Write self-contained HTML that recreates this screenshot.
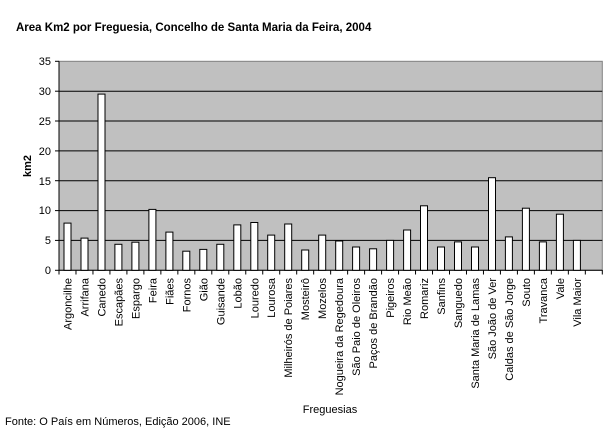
<!DOCTYPE html>
<html><head><meta charset="utf-8"><style>
body{margin:0;background:#fff}
svg{display:block;font-family:"Liberation Sans",Arial,sans-serif}
</style></head><body>
<svg width="613" height="431" viewBox="0 0 613 431">
<text x="16" y="31" font-size="11.5" font-weight="bold">Area Km2 por Freguesia, Concelho de Santa Maria da Feira, 2004</text>
<rect x="59" y="61.3" width="543.3" height="209" fill="#c0c0c0" stroke="#808080" stroke-width="1"/>
<g stroke="#000" stroke-width="1">
<line x1="59" x2="602.3" y1="91.2" y2="91.2"/>
<line x1="59" x2="602.3" y1="121.0" y2="121.0"/>
<line x1="59" x2="602.3" y1="150.9" y2="150.9"/>
<line x1="59" x2="602.3" y1="180.7" y2="180.7"/>
<line x1="59" x2="602.3" y1="210.6" y2="210.6"/>
<line x1="59" x2="602.3" y1="240.4" y2="240.4"/>
<line x1="59" x2="59" y1="61.3" y2="270.3"/>
<line x1="59" x2="602.3" y1="270.3" y2="270.3"/>
<line x1="55" x2="59" y1="270.3" y2="270.3"/><line x1="55" x2="59" y1="240.4" y2="240.4"/><line x1="55" x2="59" y1="210.6" y2="210.6"/><line x1="55" x2="59" y1="180.7" y2="180.7"/><line x1="55" x2="59" y1="150.9" y2="150.9"/><line x1="55" x2="59" y1="121" y2="121"/><line x1="55" x2="59" y1="91.2" y2="91.2"/><line x1="55" x2="59" y1="61.3" y2="61.3"/>
</g>
<g font-size="11" text-anchor="end">
<text x="51" y="274">0</text><text x="51" y="244">5</text><text x="51" y="214">10</text><text x="51" y="185">15</text><text x="51" y="155">20</text><text x="51" y="125">25</text><text x="51" y="95">30</text><text x="51" y="65">35</text>
</g>
<text transform="translate(31,166) rotate(-90)" font-size="11" font-weight="bold" text-anchor="middle">km2</text>
<g stroke="#000">
<path d="M59 270v4.5M75.98 270v4.5M92.96 270v4.5M109.93 270v4.5M126.91 270v4.5M143.89 270v4.5M160.87 270v4.5M177.85 270v4.5M194.83 270v4.5M211.8 270v4.5M228.78 270v4.5M245.76 270v4.5M262.74 270v4.5M279.72 270v4.5M296.69 270v4.5M313.67 270v4.5M330.65 270v4.5M347.63 270v4.5M364.61 270v4.5M381.59 270v4.5M398.56 270v4.5M415.54 270v4.5M432.52 270v4.5M449.5 270v4.5M466.48 270v4.5M483.46 270v4.5M500.43 270v4.5M517.41 270v4.5M534.39 270v4.5M551.37 270v4.5M568.35 270v4.5M585.33 270v4.5M602.3 270v4.5"/>
</g>
<g fill="#fff" stroke="#000">
<rect x="64" y="223.1" width="7" height="47.2"/>
<rect x="81" y="238.1" width="7" height="32.2"/>
<rect x="98" y="94.1" width="7" height="176.2"/>
<rect x="114.9" y="244.3" width="7" height="26"/>
<rect x="131.9" y="242.2" width="7" height="28.1"/>
<rect x="148.9" y="209.4" width="7" height="60.9"/>
<rect x="165.9" y="232.1" width="7" height="38.2"/>
<rect x="182.8" y="251.2" width="7" height="19.1"/>
<rect x="199.8" y="249.4" width="7" height="20.9"/>
<rect x="216.8" y="244.3" width="7" height="26"/>
<rect x="233.8" y="224.9" width="7" height="45.4"/>
<rect x="250.8" y="222.5" width="7" height="47.8"/>
<rect x="267.7" y="235.1" width="7" height="35.2"/>
<rect x="284.7" y="224" width="7" height="46.3"/>
<rect x="301.7" y="250" width="7" height="20.3"/>
<rect x="318.7" y="235.1" width="7" height="35.2"/>
<rect x="335.7" y="241" width="7" height="29.3"/>
<rect x="352.6" y="247" width="7" height="23.3"/>
<rect x="369.6" y="248.8" width="7" height="21.5"/>
<rect x="386.6" y="240.4" width="7" height="29.9"/>
<rect x="403.6" y="230" width="7" height="40.3"/>
<rect x="420.5" y="205.8" width="7" height="64.5"/>
<rect x="437.5" y="247" width="7" height="23.3"/>
<rect x="454.5" y="241.9" width="7" height="28.4"/>
<rect x="471.5" y="247" width="7" height="23.3"/>
<rect x="488.5" y="177.7" width="7" height="92.6"/>
<rect x="505.4" y="236.9" width="7" height="33.4"/>
<rect x="522.4" y="208.2" width="7" height="62.1"/>
<rect x="539.4" y="241.9" width="7" height="28.4"/>
<rect x="556.4" y="214.2" width="7" height="56.1"/>
<rect x="573.4" y="240.4" width="7" height="29.9"/>
</g>
<g font-size="11" text-anchor="end">
<text transform="translate(71.5,278) rotate(-90)">Argoncilhe</text>
<text transform="translate(88.5,278) rotate(-90)">Arrifana</text>
<text transform="translate(105.5,278) rotate(-90)">Canedo</text>
<text transform="translate(122.4,278) rotate(-90)">Escapães</text>
<text transform="translate(139.4,278) rotate(-90)">Espargo</text>
<text transform="translate(156.4,278) rotate(-90)">Feira</text>
<text transform="translate(173.4,278) rotate(-90)">Fiães</text>
<text transform="translate(190.3,278) rotate(-90)">Fornos</text>
<text transform="translate(207.3,278) rotate(-90)">Gião</text>
<text transform="translate(224.3,278) rotate(-90)">Guisande</text>
<text transform="translate(241.3,278) rotate(-90)">Lobão</text>
<text transform="translate(258.3,278) rotate(-90)">Louredo</text>
<text transform="translate(275.2,278) rotate(-90)">Lourosa</text>
<text transform="translate(292.2,278) rotate(-90)">Milheirós de Poiares</text>
<text transform="translate(309.2,278) rotate(-90)">Mosteirô</text>
<text transform="translate(326.2,278) rotate(-90)">Mozelos</text>
<text transform="translate(343.2,278) rotate(-90)">Nogueira da Regedoura</text>
<text transform="translate(360.1,278) rotate(-90)">São Paio de Oleiros</text>
<text transform="translate(377.1,278) rotate(-90)">Paços de Brandão</text>
<text transform="translate(394.1,278) rotate(-90)">Pigeiros</text>
<text transform="translate(411.1,278) rotate(-90)">Rio Meão</text>
<text transform="translate(428,278) rotate(-90)">Romariz</text>
<text transform="translate(445,278) rotate(-90)">Sanfins</text>
<text transform="translate(462,278) rotate(-90)">Sanguedo</text>
<text transform="translate(479,278) rotate(-90)">Santa Maria de Lamas</text>
<text transform="translate(496,278) rotate(-90)">São João de Ver</text>
<text transform="translate(512.9,278) rotate(-90)">Caldas de São Jorge</text>
<text transform="translate(529.9,278) rotate(-90)">Souto</text>
<text transform="translate(546.9,278) rotate(-90)">Travanca</text>
<text transform="translate(563.9,278) rotate(-90)">Vale</text>
<text transform="translate(580.9,278) rotate(-90)">Vila Maior</text>
</g>
<text x="330" y="413" font-size="11" text-anchor="middle">Freguesias</text>
<text x="5" y="425" font-size="11">Fonte: O País em Números, Edição 2006, INE</text>
</svg>
</body></html>
